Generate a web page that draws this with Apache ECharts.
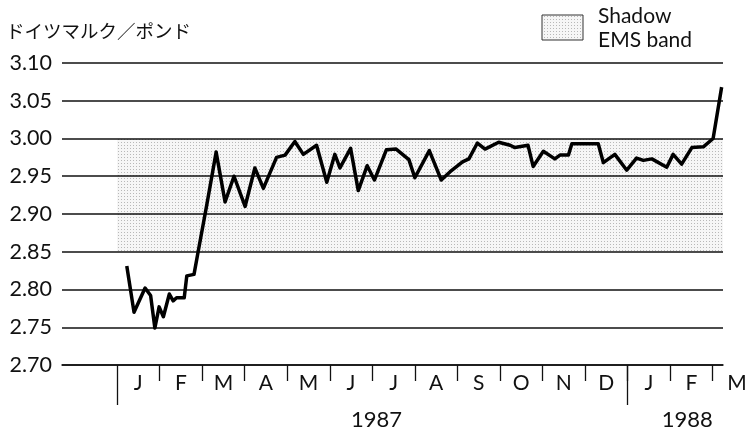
<!DOCTYPE html>
<html><head><meta charset="utf-8">
<script src="https://cdn.jsdelivr.net/npm/echarts@6/dist/echarts.min.js"></script>
<style>html,body{margin:0;padding:0;background:#fff}#c{width:746px;height:432px}</style>
</head><body><div id="c"></div>
<script>
// ---- data ----
const monthLabels = ['J','F','M','A','M','J','J','A','S','O','N','D','J','F','M'];
const yearLabels = ['1987','1988'];
const titleText = 'ドイツマルク／ポンド';
const legendLines = ['Shadow', 'EMS band'];
// time in months since 1 Jan 1987
const monthPos = [0.23,0.40,0.66,0.79,0.89,0.99,1.09,1.23,1.32,1.40,
  1.58,1.64,1.81,1.91,2.11,2.33,2.54,2.75,3.01,3.24,
  3.44,3.75,3.95,4.18,4.38,4.69,4.93,5.12,5.24,5.49,
  5.67,5.88,6.05,6.33,6.56,6.86,7.00,7.34,7.62,7.83,
  8.12,8.27,8.47,8.65,8.97,9.24,9.35,9.66,9.78,10.02,
  10.29,10.41,10.61,10.69,11.31,11.43,11.70,11.98,12.21,12.37,
  12.57,12.92,13.07,13.27,13.51,13.78,14.01,14.21];
// DM per pound
const rate = [2.831,2.770,2.802,2.792,2.749,2.777,2.764,2.794,2.785,2.789,
  2.789,2.818,2.820,2.851,2.912,2.982,2.916,2.950,2.910,2.961,
  2.934,2.975,2.978,2.996,2.979,2.991,2.942,2.979,2.961,2.987,
  2.931,2.964,2.945,2.985,2.986,2.972,2.948,2.984,2.945,2.956,
  2.969,2.973,2.994,2.986,2.995,2.991,2.988,2.991,2.963,2.983,
  2.973,2.978,2.978,2.993,2.993,2.968,2.979,2.958,2.974,2.971,
  2.973,2.962,2.979,2.966,2.988,2.989,3.000,3.068];
const bandLow = 2.85, bandHigh = 3.00;
const yMin = 2.70, yMax = 3.10, yStep = 0.05;

// ---- layout ----
const xMin = -1.2926, xMax = 14.242;
const FONT = 'Lato';
const INK = '#111';

function dots(){
  const c = document.createElement('canvas'); c.width = 3; c.height = 3;
  const g = c.getContext('2d');
  g.fillStyle = '#f6f6f6'; g.fillRect(0,0,3,3);
  g.fillStyle = '#b8b8b8'; g.fillRect(1,1,1,1);
  return {image: c, repeat: 'repeat'};
}
const pattern = dots();

const tickVals = monthLabels.slice(1).map((_, i) => i + 1);
const labelVals = monthLabels.slice(0, 14).map((_, i) => i + 0.5);

const chart = echarts.init(document.getElementById('c'), null, {renderer: 'canvas'});
chart.setOption({
  animation: false,
  backgroundColor: '#fff',
  title: {text: titleText, left: 6, top: 22, padding: 0,
    textStyle: {fontFamily: 'Noto Sans CJK JP', fontSize: 18.5, fontWeight: 'normal', color: INK}},
  grid: {left: 62, right: 23, top: 63, bottom: 67},
  xAxis: [{
    type: 'value', min: xMin, max: xMax, position: 'bottom', z: 3,
    axisLine: {show: true, lineStyle: {color: INK, width: 1.5}},
    axisTick: {show: true, customValues: tickVals, length: 16, lineStyle: {color: INK, width: 1.3}},
    axisLabel: {customValues: labelVals, formatter: v => monthLabels[Math.floor(v)],
      margin: 8, fontSize: 21, fontFamily: FONT, color: INK},
    splitLine: {show: false}
  }, {
    type: 'value', min: xMin, max: xMax, position: 'bottom', z: 3,
    axisLine: {show: false},
    axisTick: {show: true, customValues: [0, 12], length: 40, lineStyle: {color: INK, width: 1.3}},
    axisLabel: {customValues: [6.1, 13.4], formatter: v => (v < 12 ? yearLabels[0] : yearLabels[1]),
      margin: 44, fontSize: 22, fontFamily: FONT, color: INK},
    splitLine: {show: false}
  }],
  yAxis: {
    type: 'value', min: yMin, max: yMax, interval: yStep, z: 3,
    axisLine: {show: false}, axisTick: {show: false},
    axisLabel: {formatter: v => v.toFixed(2), margin: 10, fontSize: 21.5, fontFamily: FONT, color: INK},
    splitLine: {show: true, lineStyle: {color: INK, width: 1.5}}
  },
  series: [{
    type: 'line', data: [], z: 1, silent: true,
    markArea: {silent: true, itemStyle: {color: pattern},
      data: [[{xAxis: 0, yAxis: bandLow}, {xAxis: xMax, yAxis: bandHigh}]]}
  }, {
    type: 'line', z: 5, symbol: 'none', smooth: false,
    data: monthPos.map((m, i) => [m, rate[i]]),
    lineStyle: {color: '#000', width: 3.5, join: 'round'}
  }]
});

const lastX = chart.convertToPixel({xAxisIndex: 0}, 14.6);
chart.setOption({graphic: [
  {type: 'text', left: lastX - 11, top: 373, z: 10,
    style: {text: monthLabels[14], fontSize: 21, fontFamily: FONT, fill: INK}},
  {type: 'rect', shape: {x: 542, y: 15, width: 41, height: 25}, z: 10,
    style: {fill: pattern, stroke: '#333', lineWidth: 1}},
  {type: 'text', x: 598, y: 16.5, z: 10,
    style: {text: legendLines[0], fontSize: 21, fontFamily: FONT, fill: INK, verticalAlign: 'middle'}},
  {type: 'text', x: 598, y: 40, z: 10,
    style: {text: legendLines[1], fontSize: 21, fontFamily: FONT, fill: INK, verticalAlign: 'middle'}}
]});
</script>
</body></html>
